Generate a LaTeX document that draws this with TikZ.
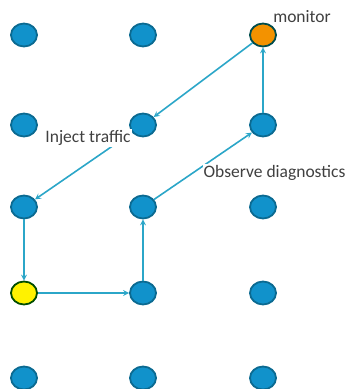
\documentclass[tikz,border=0pt]{standalone}
\usepackage{fontspec}
\setmainfont{Carlito}
\usetikzlibrary{shapes.geometric, arrows}
\definecolor{dotblue}{HTML}{1192CB}
\definecolor{dotline}{HTML}{0B6A91}
\definecolor{linkblue}{HTML}{2BA6C8}
\definecolor{monitororange}{HTML}{F39200}
\definecolor{textgrey}{HTML}{404040}
\tikzstyle{dot} = [ellipse, minimum width=26pt, minimum height=23pt, inner sep=0pt, draw=dotline, line width=1.8pt, fill=dotblue]
\tikzstyle{monitordot} = [dot, draw=teal!60!black, fill=monitororange]
\tikzstyle{sourcedot} = [dot, draw=green!30!black, fill=yellow]
\tikzstyle{label} = [fill=white, inner sep=1pt, text=textgrey, font=\fontsize{17.5}{20}\selectfont]
\tikzstyle{arrow} = [draw=linkblue, line width=1.6pt, ->, >=stealth]

\begin{document}
\begin{tikzpicture}[x=1pt, y=-1pt]
        \useasboundingbox (0,0) rectangle (348,389);

        % Row 1
        \node (dotA1) [dot] at (24,35) {};
        \node (dotB1) [dot] at (143,35) {};
        \node (monitor) [monitordot] at (263,35) {};

        % Row 2
        \node (dotA2) [dot] at (24,125) {};
        \node (injectPoint) [dot] at (143,125) {};
        \node (relayUp) [dot] at (263,125) {};

        % Row 3
        \node (turnDown) [dot] at (24,207) {};
        \node (observePoint) [dot] at (143,207) {};
        \node (dotC3) [dot] at (263,207) {};

        % Row 4
        \node (source) [sourcedot] at (24,293) {};
        \node (hopRight) [dot] at (143,293) {};
        \node (dotC4) [dot] at (263,293) {};

        % Row 5
        \node (dotA5) [dot] at (24,378) {};
        \node (dotB5) [dot] at (143,378) {};
        \node (dotC5) [dot] at (263,378) {};

        % Arrows along the path
        \draw [arrow] (monitor) -- (injectPoint);
        \draw [arrow] (injectPoint) -- (turnDown);
        \draw [arrow] (turnDown) -- (source);
        \draw [arrow] (source) -- (hopRight);
        \draw [arrow] (hopRight) -- (observePoint);
        \draw [arrow] (observePoint) -- (relayUp);
        \draw [arrow] (relayUp) -- (monitor);

        % Labels
        \node (monitorLabel) [label] at (302,17) {monitor};
        \node (injectLabel) [label] at (88,138) {Inject traffic};
        \node (observeLabel) [label] at (274.5,173) {Observe diagnostics};

    \end{tikzpicture}
\end{document}
